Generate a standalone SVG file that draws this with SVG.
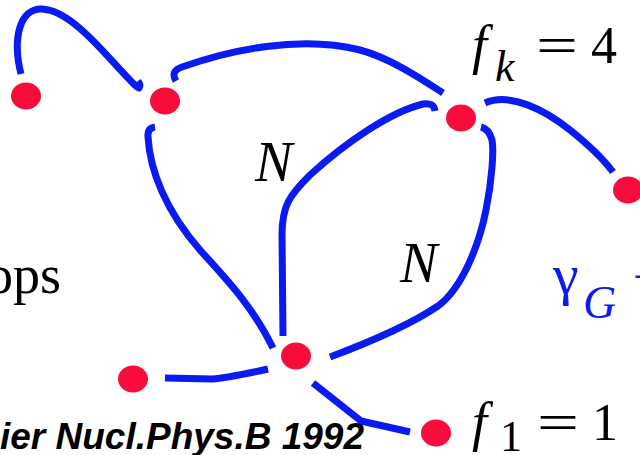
<svg xmlns="http://www.w3.org/2000/svg" width="640" height="455" viewBox="0 0 640 455">
<defs>
<style>
.e{fill:none;stroke:#0a1af2;stroke-width:7;stroke-linejoin:round;stroke-linecap:butt}
.n{fill:#f70d3c}
.t{font-family:"Liberation Serif","Times New Roman",serif;fill:#000}
.i{font-style:italic}
.b{fill:#0a1af2}
.ref{font-family:"Liberation Sans",Arial,sans-serif;font-weight:bold;font-style:italic;fill:#000}
</style>
</defs>
<rect width="640" height="455" fill="#fff"/>
<g id="connectors">
<path class="e" d="M21,74 C12,38 20,8 42,9 C72,10 108,58 128,78 C133,83 136,87 139,88 Q141,85 138,81"/>
<path class="e" d="M176,81 Q170,71 182,67 C230,50 300,35 360,50 C390,58 420,78 443,93"/>
<path class="e" d="M155,127 Q147,128 148,137 C150,170 165,210 200,250 C225,278 252,305 273,348"/>
<path class="e" d="M283,336 L282,235 C282,205 290,195 310,175 C345,143 390,112 423,104 Q434,102 435,111"/>
<path class="e" d="M330,357 C370,342 410,325 438,306 C460,290 478,250 486,210 C492,180 494,150 492,140 Q489,129 481,127"/>
<path class="e" d="M485,103 C510,92 545,110 570,130 C590,146 604,160 613,172"/>
<path class="e" d="M165,378 L212,379 C225,378 245,374 268,369"/>
<path class="e" d="M313,383 L361,421 L410,432"/>
</g>
<g id="nA"><ellipse class="n" cx="26" cy="96" rx="15" ry="13.5"/></g>
<g id="nB"><ellipse class="n" cx="165" cy="101" rx="15" ry="13.5"/></g>
<g id="nC"><ellipse class="n" cx="461" cy="118" rx="15" ry="13.5"/></g>
<g id="nD"><ellipse class="n" cx="628" cy="190" rx="15" ry="13.5"/></g>
<g id="nE"><ellipse class="n" cx="296" cy="356" rx="15" ry="13.5"/></g>
<g id="nF"><ellipse class="n" cx="133" cy="379" rx="15" ry="13.5"/></g>
<g id="nG"><ellipse class="n" cx="436" cy="433" rx="15" ry="13.5"/></g>
<g id="labels">
<text class="t i" x="255" y="181" font-size="56">N</text>
<text class="t i" x="400" y="282" font-size="56">N</text>
<text class="t" x="61" y="293" font-size="54" text-anchor="end">ops</text>
<text class="t i" x="472" y="63" font-size="54">f</text>
<text class="t i" x="495" y="81" font-size="44">k</text>
<text class="t" x="536" y="63" font-size="52" textLength="42" lengthAdjust="spacingAndGlyphs">=</text>
<text class="t" x="591" y="63" font-size="52">4</text>
<text class="t i" x="472" y="440" font-size="54">f</text>
<text class="t" x="500" y="451" font-size="44">1</text>
<text class="t" x="537" y="440" font-size="52" textLength="42" lengthAdjust="spacingAndGlyphs">=</text>
<text class="t" x="592" y="440" font-size="52">1</text>
<text class="t b" x="553" y="294" font-size="58">γ</text>
<text class="t i b" x="583" y="318" font-size="46">G</text>
<text class="t b" x="633" y="294" font-size="50">+</text>
<text class="ref" x="0" y="449" font-size="37">ier Nucl.Phys.B 1992</text>
</g>
</svg>
